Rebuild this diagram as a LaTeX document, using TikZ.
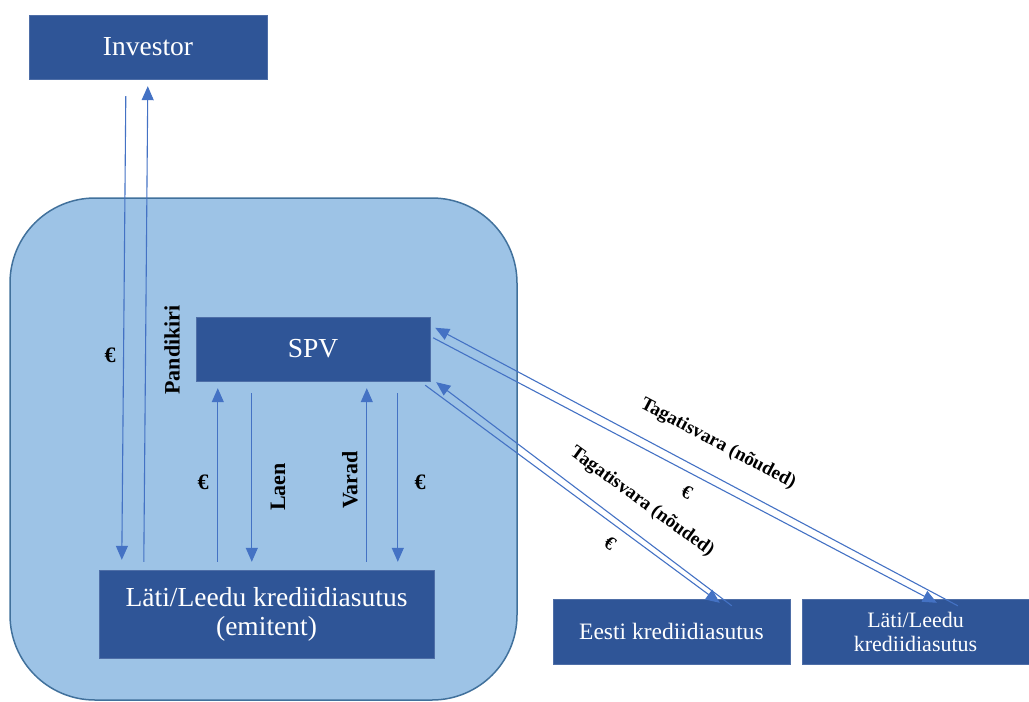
\documentclass[tikz,border=0pt]{standalone}
\usepackage{fontspec}
\setmainfont{Liberation Serif}
\usetikzlibrary{arrows.meta}
\definecolor{boxblue}{HTML}{2F5597}
\definecolor{areablue}{HTML}{9DC3E6}
\definecolor{edgeblue}{HTML}{41719C}
\definecolor{flowblue}{HTML}{4472C4}
\newcommand{\bigtxt}  {\fontsize{27.5}{29}\selectfont}
\newcommand{\smalltxt}{\fontsize{22}{24}\selectfont}

\begin{document}
\begin{tikzpicture}[x=1pt,y=-1pt,
   box/.style={fill=boxblue,draw=boxblue!85!white,text=white,inner sep=0pt,align=center},
   flow/.style={draw=flowblue,line width=1.1pt,-{Triangle[length=14pt,width=12pt]}},
   lbl/.style={font=\bfseries\fontsize{22}{24}\selectfont,inner sep=0pt},
   slant/.style={font=\bfseries\fontsize{19}{21}\selectfont,inner sep=0pt}]
   \useasboundingbox (0,0) rectangle (1029,702);
   % the frame
   \filldraw[fill=areablue,draw=edgeblue,line width=1.5pt,rounded corners=85pt]
    (10,198) rectangle (517,700);
   % boxes
   \node[box,minimum width=238pt,minimum height=64pt,font=\bigtxt] (investor) at (148,47) {Investor};
   \node[box,minimum width=234pt,minimum height=64pt,font=\bigtxt] (spv) at (313,349) {SPV};
   \node[box,minimum width=335pt,minimum height=88pt,font=\bigtxt] (emitent) at (266.5,614)
    {L\"ati/Leedu krediidiasutus\\(emitent)};
   \node[box,minimum width=237pt,minimum height=65pt,font=\fontsize{23.5}{25}\selectfont] (eesti) at (671.5,631.5)
    {Eesti krediidiasutus};
   \node[box,minimum width=227pt,minimum height=65pt,font=\smalltxt] (lati) at (915.5,631.5)
    {L\"ati/Leedu\\krediidiasutus};
   % investor <-> emitent
   \draw[flow] ([xshift=97pt,yshift=-17pt]investor.south west) -- ([xshift=23pt,yshift=10pt]emitent.north west);
   \draw[flow] ([xshift=45pt,yshift=8pt]emitent.north west) -- ([xshift=119pt,yshift=-7pt]investor.south west);
   % spv <-> emitent
   \draw[flow] ([xshift=119pt,yshift=8pt]emitent.north west) -- ([xshift=22pt,yshift=-7pt]spv.south west);
   \draw[flow] ([xshift=56pt,yshift=-12pt]spv.south west) -- ([xshift=153pt,yshift=8pt]emitent.north west);
   \draw[flow] ([xshift=268pt,yshift=8pt]emitent.north west) -- ([xshift=171pt,yshift=-7pt]spv.south west);
   \draw[flow] ([xshift=202pt,yshift=-12pt]spv.south west) -- ([xshift=299pt,yshift=8pt]emitent.north west);
   % spv <-> outside banks
   \draw[flow] ([xshift=156pt,yshift=-7pt]lati.north west) -- ([xshift=5pt,yshift=-11pt]spv.north east);
   \draw[flow] ([xshift=3pt,yshift=-21pt]spv.north east) -- ([xshift=135pt,yshift=-4pt]lati.north west);
   \draw[flow] ([xshift=179pt,yshift=-7pt]eesti.north west) -- ([xshift=6pt,yshift=-1pt]spv.south east);
   \draw[flow] ([xshift=-5pt,yshift=-4pt]spv.south east) -- ([xshift=167pt,yshift=-4pt]eesti.north west);
   % labels
   \node[lbl] (eurinv) at (110,355) {€};
   \node[lbl,rotate=90] (pandikiri) at (172,350) {Pandikiri};
   \node[lbl] (eurloan) at (203,482) {€};
   \node[lbl,rotate=90] (laen) at (278,487) {Laen};
   \node[lbl,rotate=90] (varad) at (350,480) {Varad};
   \node[lbl] (eurasset) at (420,482) {€};
   \node[slant,rotate=-28] (tagatisup) at (718,444) {Tagatisvara (nõuded)};
   \node[slant,rotate=-28] (eurup) at (687,492) {€};
   \node[slant,rotate=-36] (tagatislow) at (642,502) {Tagatisvara (nõuded)};
   \node[slant,rotate=-36] (eurlow) at (610,543) {€};
\end{tikzpicture}
\end{document}
